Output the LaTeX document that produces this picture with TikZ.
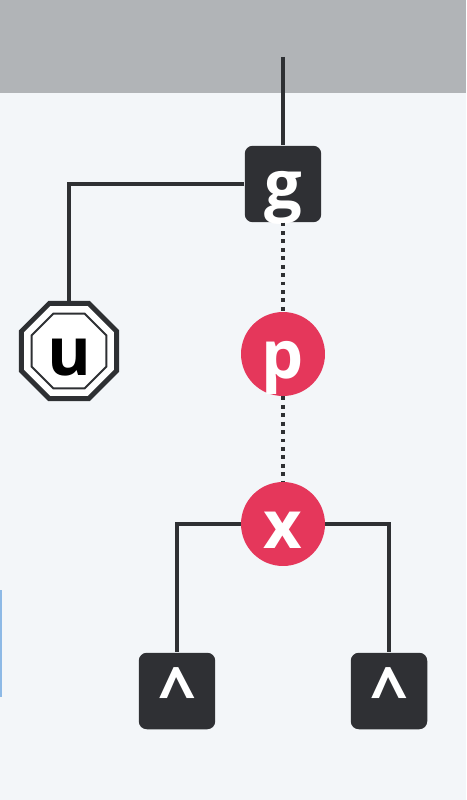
\documentclass[tikz,border=0pt]{standalone}
\usepackage{fontspec}
\setmainfont{Open Sans}
\usetikzlibrary{shapes.geometric}
\definecolor{boxdark}{HTML}{2F3034}
\definecolor{tipred}{HTML}{E5375B}
\definecolor{band}{HTML}{B1B4B7}
\definecolor{paper}{HTML}{F3F6F9}
\definecolor{wire}{HTML}{2E3033}
\definecolor{cursorblue}{HTML}{8DB9E6}

\begin{document}
\begin{tikzpicture}[x=0.02cm,y=-0.02cm,font=\fontsize{38}{42}\selectfont\bfseries,
    label text/.style={inner sep=0pt,text height=33pt,text depth=5pt},
    sq/.style={label text,fill=boxdark,text=white,rounded corners=0.16cm,minimum size=1.53cm},
    dot/.style={label text,circle,fill=tipred,text=white,minimum size=1.68cm},
    oct/.style={label text,regular polygon,regular polygon sides=8,draw=wire,line width=2.8pt,fill=white,text=black,minimum size=2.06cm},
    oct inner/.style={regular polygon,regular polygon sides=8,draw=wire,line width=1.1pt,minimum size=1.62cm},
    wire line/.style={draw=wire,line width=2.3pt},
    dots line/.style={wire line,dash pattern=on 2.2pt off 2.6pt}]
  \useasboundingbox (0,0) rectangle (466,800);
  \fill[paper] (0,0) rectangle (466,800);
  \fill[band] (0,0) rectangle (466,93);
  \draw[cursorblue,line width=1.2pt] (1,590) -- (1,697);
  % nodes
  \coordinate (top) at (283,57);
  \node[sq] (g) at (283,184) {g};
  \node[oct] (u) at (69,351) {u};
  \node[oct inner] (uin) at (u.center) {};
  \node[dot] (p) at (283,354) {p};
  \node[dot] (x) at (283,524) {x};
  \node[sq] (hatl) at (177,691) {\textasciicircum};
  \node[sq] (hatr) at (389,691) {\textasciicircum};
  % links
  \draw[wire line] (top) -- (g);
  \draw[wire line] (g) -| (u);
  \draw[dots line] (g) -- (p);
  \draw[dots line] (p) -- (x);
  \draw[wire line] (x) -| (hatl);
  \draw[wire line] (x) -| (hatr);
\end{tikzpicture}
\end{document}
